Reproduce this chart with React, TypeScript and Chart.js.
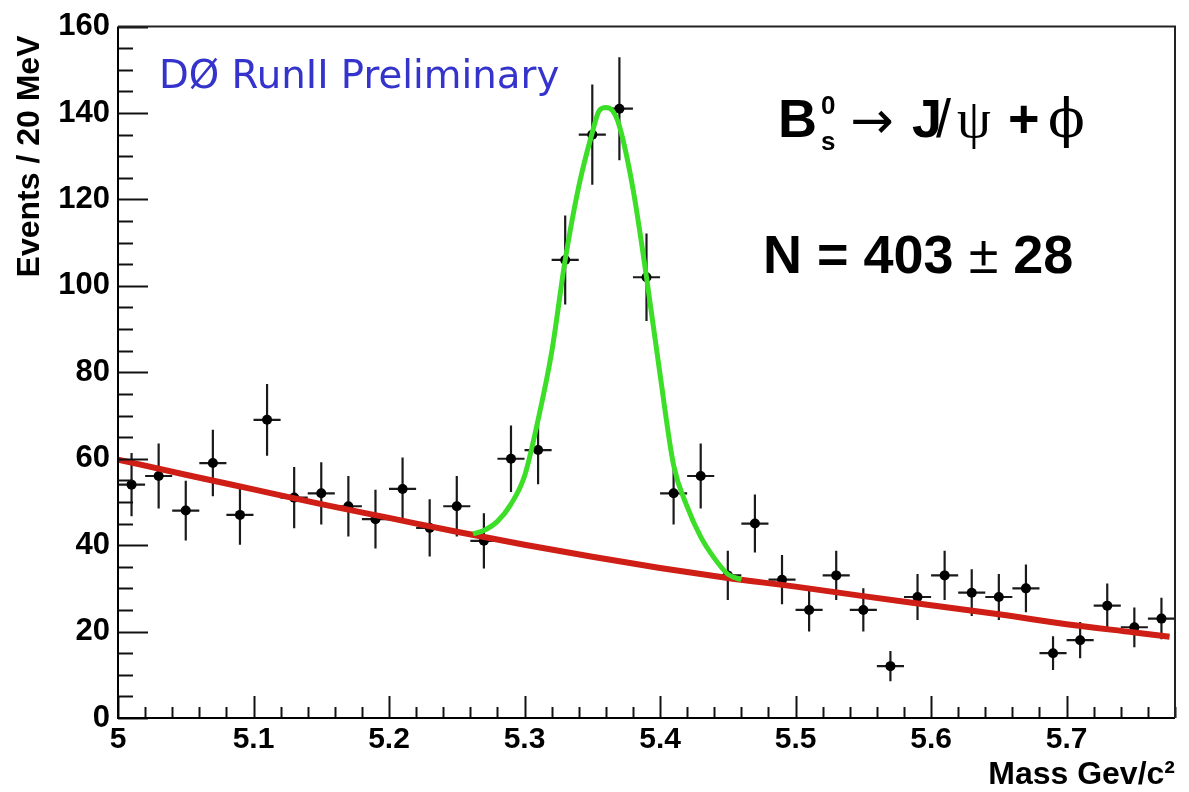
import React, { useEffect, useRef } from 'react';
import { Chart, registerables } from 'chart.js';

Chart.register(...registerables);

// ---- data ----
const massBins = [
  5.01, 5.03, 5.05, 5.07, 5.09, 5.11, 5.13, 5.15, 5.17, 5.19,
  5.21, 5.23, 5.25, 5.27, 5.29, 5.31, 5.33, 5.35, 5.37, 5.39,
  5.41, 5.43, 5.45, 5.47, 5.49, 5.51, 5.53, 5.55, 5.57, 5.59,
  5.61, 5.63, 5.65, 5.67, 5.69, 5.71, 5.73, 5.75, 5.77,
];
const eventCounts = [
  54, 56, 48, 59, 47, 69, 51, 52, 49, 46,
  53, 44, 49, 41, 60, 62, 106, 135, 141, 102,
  52, 56, 33, 45, 32, 25, 33, 25, 12, 28,
  33, 29, 28, 30, 15, 18, 26, 21, 23,
];
const countErrors = [
  7.3, 7.5, 6.9, 7.7, 6.9, 8.3, 7.1, 7.2, 7.0, 6.8,
  7.3, 6.6, 7.0, 6.4, 7.7, 7.9, 10.3, 11.6, 11.9, 10.1,
  7.2, 7.5, 5.7, 6.7, 5.7, 5.0, 5.7, 5.0, 3.5, 5.3,
  5.7, 5.4, 5.3, 5.5, 3.9, 4.2, 5.1, 4.6, 4.8,
];
const binHalfWidth = 0.01;

// background fit (red)
const bgMass = [5.0, 5.05, 5.1, 5.15, 5.2, 5.25, 5.3, 5.35, 5.4, 5.45, 5.5, 5.55, 5.6, 5.65, 5.7, 5.75, 5.776];
const bgFit = [59.8, 56.3, 52.9, 49.5, 46.3, 43.1, 40.1, 37.3, 34.7, 32.4, 30.4, 28.2, 26.1, 24.0, 21.7, 19.8, 18.8];

// signal + background fit (green)
const sigMass = [5.262, 5.27, 5.28, 5.29, 5.3, 5.31, 5.32, 5.33, 5.34, 5.35, 5.355, 5.36, 5.365, 5.37, 5.38, 5.39, 5.4, 5.41, 5.42, 5.43, 5.44, 5.45, 5.46];
const sigFit = [42.6, 43.4, 45.5, 49.5, 56.0, 69.0, 84.6, 106.0, 123.0, 135.5, 140.5, 141.3, 140.5, 137.0, 122.5, 102.0, 79.5, 58.5, 48.9, 41.9, 37.0, 33.3, 32.0];

const xTickLabels = [5, 5.1, 5.2, 5.3, 5.4, 5.5, 5.6, 5.7];
const yTickLabels = [0, 20, 40, 60, 80, 100, 120, 140, 160];
const X_MIN = 5;
const X_MAX = 5.78;
const Y_MIN = 0;
const Y_MAX = 160;
const X_MINOR_STEP = 0.02;
const Y_MINOR_STEP = 5;

const FONT = '"Liberation Sans", Arial, Helvetica, sans-serif';

const errorBarPlugin = {
  id: 'errorBars',
  beforeDatasetsDraw(chart: any) {
    const { ctx, chartArea, scales } = chart;
    const x = scales.x;
    const y = scales.y;
    ctx.save();
    ctx.beginPath();
    ctx.rect(chartArea.left, chartArea.top, chartArea.right - chartArea.left, chartArea.bottom - chartArea.top);
    ctx.clip();
    ctx.strokeStyle = '#1a1a1a';
    ctx.lineWidth = 2.2;
    massBins.forEach((m, i) => {
      const px = x.getPixelForValue(m);
      const py = y.getPixelForValue(eventCounts[i]);
      ctx.beginPath();
      ctx.moveTo(px, y.getPixelForValue(eventCounts[i] - countErrors[i]));
      ctx.lineTo(px, y.getPixelForValue(eventCounts[i] + countErrors[i]));
      ctx.moveTo(x.getPixelForValue(m - binHalfWidth), py);
      ctx.lineTo(x.getPixelForValue(m + binHalfWidth), py);
      ctx.stroke();
    });
    ctx.restore();
  },
};

const frameTicksPlugin = {
  id: 'frameTicks',
  afterDatasetsDraw(chart: any) {
    const { ctx, chartArea, scales } = chart;
    const x = scales.x;
    const y = scales.y;
    const { left, right, top, bottom } = chartArea;
    ctx.save();
    ctx.strokeStyle = '#111';
    ctx.lineWidth = 2;
    // x ticks (inward, upward)
    const nx = Math.round((X_MAX - X_MIN) / X_MINOR_STEP);
    for (let i = 0; i <= nx; i++) {
      const v = X_MIN + i * X_MINOR_STEP;
      const isMajor = xTickLabels.some((t) => Math.abs(t - v) < 1e-6);
      const px = Math.round(x.getPixelForValue(v)) + 0.5;
      ctx.beginPath();
      ctx.moveTo(px, bottom);
      ctx.lineTo(px, bottom - (isMajor ? 22 : 11));
      ctx.stroke();
    }
    // y ticks (inward, rightward)
    const ny = Math.round((Y_MAX - Y_MIN) / Y_MINOR_STEP);
    for (let i = 0; i <= ny; i++) {
      const v = Y_MIN + i * Y_MINOR_STEP;
      const isMajor = yTickLabels.some((t) => Math.abs(t - v) < 1e-6);
      const py = Math.round(y.getPixelForValue(v)) + 0.5;
      ctx.beginPath();
      ctx.moveTo(left, py);
      ctx.lineTo(left + (isMajor ? 30 : 15), py);
      ctx.stroke();
    }
    // frame
    ctx.strokeStyle = '#000';
    ctx.lineWidth = 2;
    ctx.beginPath();
    ctx.moveTo(left, top);
    ctx.lineTo(left, bottom);
    ctx.lineTo(right, bottom);
    ctx.stroke();
    ctx.strokeStyle = '#222';
    ctx.beginPath();
    ctx.moveTo(left, top);
    ctx.lineTo(right, top);
    ctx.lineTo(right, bottom);
    ctx.stroke();
    ctx.restore();
  },
};

const annotationPlugin = {
  id: 'annotations',
  afterDraw(chart: any) {
    const ctx = chart.ctx;
    ctx.save();
    ctx.textAlign = 'left';
    ctx.textBaseline = 'alphabetic';
    // experiment label
    ctx.fillStyle = 'rgb(52,52,204)';
    ctx.font = '38.7px "DejaVu Sans", sans-serif';
    ctx.fillText('DØ RunII Preliminary', 159, 88);

    // decay formula
    ctx.fillStyle = '#000';
    ctx.font = `bold 54px ${FONT}`;
    ctx.fillText('B', 778, 137);
    ctx.font = `bold 26px ${FONT}`;
    ctx.fillText('s', 821, 150);
    ctx.fillText('0', 821, 114);
    ctx.font = '52px "DejaVu Sans", sans-serif';
    ctx.textAlign = 'center';
    ctx.fillText('→', 872, 138);
    ctx.textAlign = 'left';
    ctx.font = `bold 54px ${FONT}`;
    ctx.fillText('J', 912, 137);
    ctx.font = `54px ${FONT}`;
    ctx.fillText('/', 936, 137);
    ctx.font = '54px "Liberation Serif", serif';
    ctx.fillText('ψ', 957, 137);
    ctx.font = `bold 54px ${FONT}`;
    ctx.fillText('+', 1008, 137);
    ctx.font = '54px "DejaVu Serif", serif';
    ctx.fillText('ϕ', 1048, 137);

    // yield
    let xpos = 763;
    ctx.font = `bold 54px ${FONT}`;
    const p1 = 'N = 403 ';
    ctx.fillText(p1, xpos, 273);
    xpos += ctx.measureText(p1).width;
    ctx.font = `54px ${FONT}`;
    ctx.fillText('±', xpos, 273);
    xpos += ctx.measureText('±').width;
    ctx.font = `bold 54px ${FONT}`;
    ctx.fillText(' 28', xpos, 273);
    ctx.restore();
  },
};

export default function App() {
  const canvasRef = useRef<HTMLCanvasElement | null>(null);

  useEffect(() => {
    if (!canvasRef.current) return;
    const points = massBins.map((m, i) => ({ x: m, y: eventCounts[i] }));
    const bg = bgMass.map((m, i) => ({ x: m, y: bgFit[i] }));
    const sig = sigMass.map((m, i) => ({ x: m, y: sigFit[i] }));

    const chart = new Chart(canvasRef.current, {
      type: 'scatter',
      data: {
        datasets: [
          {
            label: 'Signal + background fit',
            data: sig,
            showLine: true,
            borderColor: 'rgb(60,222,40)',
            borderWidth: 5,
            pointRadius: 0,
            cubicInterpolationMode: 'monotone',
            order: 0,
          } as any,
          {
            label: 'Background fit',
            data: bg,
            showLine: true,
            borderColor: 'rgb(206,30,22)',
            borderWidth: 6,
            pointRadius: 0,
            cubicInterpolationMode: 'monotone',
            order: 1,
          } as any,
          {
            label: 'Data',
            data: points,
            showLine: false,
            pointRadius: 5,
            pointBackgroundColor: '#000',
            pointBorderWidth: 0,
            order: 2,
          } as any,
        ],
      },
      options: {
        animation: false,
        responsive: true,
        maintainAspectRatio: false,
        layout: { padding: { left: 0, top: 22, right: 14, bottom: 0 }, autoPadding: false } as any,
        plugins: {
          legend: { display: false },
          tooltip: { enabled: false },
        },
        scales: {
          x: {
            type: 'linear',
            position: 'bottom',
            min: X_MIN,
            max: X_MAX,
            afterFit: (s: any) => {
              s.height = 74;
            },
            afterBuildTicks: (s: any) => {
              s.ticks = xTickLabels.map((v) => ({ value: v }));
            },
            grid: { display: false, drawTicks: false },
            border: { display: false },
            ticks: {
              color: '#000',
              padding: 4,
              autoSkip: false,
              maxRotation: 0,
              font: { family: FONT, size: 30, weight: 'bold' },
              callback: (v: any) => String(Math.round(Number(v) * 10) / 10),
            },
            title: {
              display: true,
              text: 'Mass Gev/c²',
              align: 'end',
              color: '#000',
              font: { family: FONT, size: 32, weight: 'bold', lineHeight: 1 },
              padding: { top: 0, bottom: 1 },
            },
          } as any,
          y: {
            type: 'linear',
            min: Y_MIN,
            max: Y_MAX,
            afterFit: (s: any) => {
              s.width = 118;
            },
            afterBuildTicks: (s: any) => {
              s.ticks = yTickLabels.map((v) => ({ value: v }));
            },
            grid: { display: false, drawTicks: false },
            border: { display: false },
            ticks: {
              color: '#000',
              padding: 8,
              font: { family: FONT, size: 31, weight: 'bold' },
            },
            title: {
              display: true,
              text: 'Events / 20 MeV ',
              align: 'end',
              color: '#000',
              font: { family: FONT, size: 32, weight: 'bold', lineHeight: 1.2 },
              padding: { top: 11, bottom: 0 },
            },
          } as any,
        },
      },
      plugins: [errorBarPlugin, frameTicksPlugin, annotationPlugin],
    });
    return () => chart.destroy();
  }, []);

  return (
    <div style={{ position: 'absolute', left: 0, top: 0, width: 1189, height: 792, background: '#fff' }}>
      <canvas ref={canvasRef} />
    </div>
  );
}
